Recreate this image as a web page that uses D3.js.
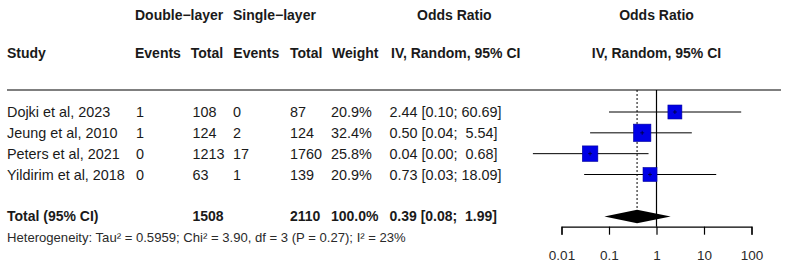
<!DOCTYPE html>
<html>
<head>
<meta charset="utf-8">
<script src="https://cdn.jsdelivr.net/npm/d3@7"></script>
<style>
  body { margin: 0; background: #fff; }
  text { font-family: "Liberation Sans", Arial, sans-serif; fill: #1a1a1a; white-space: pre; }
</style>
</head>
<body>
<div id="chart"></div>
<script>
var width = 790, height = 268;

// study data
var studies = ["Dojki et al, 2023", "Jeung et al, 2010", "Peters et al, 2021", "Yildirim et al, 2018"];
var eventsDouble = [1, 1, 0, 0];
var totalDouble = [108, 124, 1213, 63];
var eventsSingle = [0, 2, 17, 1];
var totalSingle = [87, 124, 1760, 139];
var weights = [20.9, 32.4, 25.8, 20.9];
var oddsRatio = [2.44, 0.50, 0.04, 0.73];
var ciLower = [0.10, 0.04, 0.0025, 0.03];
var ciUpper = [60.69, 5.54, 0.68, 18.09];

// pooled estimate
var pooledTotals = [1508, 2110];
var pooledWeight = 100.0;
var pooledOR = [0.39, 0.08, 1.99];   // estimate, lower, upper
var heterogeneity = "Heterogeneity: Tau\u00b2 = 0.5959; Chi\u00b2 = 3.90, df = 3 (P = 0.27); I\u00b2 = 23%";

var axisTicks = [0.01, 0.1, 1, 10, 100];

var svg = d3.select("#chart").append("svg")
    .attr("width", width)
    .attr("height", height);

var x = d3.scaleLog().domain([0.01, 100]).range([561.5, 751.5]);
var y = d3.scalePoint().domain(studies).range([112, 174.5]);
var side = d3.scaleSqrt().domain([0, 32.4]).range([0, 17.4]);

var totalY = 216.5, axisY = 226.7, ruleY = 90;

function fmt(v){ return v.toFixed(2); }
function ciText(or, lo, hi){
    var h = fmt(hi);
    while (h.length < 5) h = " " + h;
    return fmt(or) + " [" + fmt(lo) + "; " + h + "]";
}

// headers
var headers = [
    {t: "Double\u2212layer", x: 135, y: 15},
    {t: "Single\u2212layer", x: 233, y: 15},
    {t: "Odds Ratio", x: 417, y: 15},
    {t: "Study", x: 7, y: 53.3},
    {t: "Events", x: 135, y: 53.3},
    {t: "Total", x: 190.7, y: 53.3},
    {t: "Events", x: 233.3, y: 53.3},
    {t: "Total", x: 290, y: 53.3},
    {t: "Weight", x: 332, y: 53.3},
    {t: "IV, Random, 95% CI", x: 391, y: 53.3}
];
svg.append("g").selectAll("text")
    .data(headers)
    .enter().append("text")
    .attr("x", function(d){ return d.x; })
    .attr("y", function(d){ return d.y; })
    .attr("dy", "0.35em")
    .style("font-size", "14px")
    .style("font-weight", "bold")
    .text(function(d){ return d.t; });

svg.append("g").selectAll("text")
    .data(["Odds Ratio", "IV, Random, 95% CI"])
    .enter().append("text")
    .attr("x", x(1))
    .attr("y", function(d, i){ return i ? 53.3 : 15; })
    .attr("dy", "0.35em")
    .attr("text-anchor", "middle")
    .style("font-size", "14px")
    .style("font-weight", "bold")
    .text(function(d){ return d; });

svg.append("line")
    .attr("x1", 7).attr("x2", 781)
    .attr("y1", ruleY).attr("y2", ruleY)
    .attr("stroke", "#000").attr("stroke-width", 1.2);

// study rows
var columns = [
    {x: 7, v: function(d, i){ return d; }},
    {x: 136, v: function(d, i){ return eventsDouble[i]; }},
    {x: 192.5, v: function(d, i){ return totalDouble[i]; }},
    {x: 233, v: function(d, i){ return eventsSingle[i]; }},
    {x: 290, v: function(d, i){ return totalSingle[i]; }},
    {x: 331, v: function(d, i){ return weights[i].toFixed(1) + "%"; }},
    {x: 389.5, v: function(d, i){ return ciText(oddsRatio[i], ciLower[i], ciUpper[i]); }}
];
columns.forEach(function(c){
    svg.append("g").selectAll("text")
        .data(studies)
        .enter().append("text")
        .attr("x", c.x)
        .attr("y", function(d){ return y(d); })
        .attr("dy", "0.35em")
        .style("font-size", "14.4px")
        .text(c.v);
});

// total row
var totalRow = [
    {x: 7, t: "Total (95% CI)"},
    {x: 192.5, t: pooledTotals[0]},
    {x: 290, t: pooledTotals[1]},
    {x: 331, t: pooledWeight.toFixed(1) + "%"},
    {x: 389.5, t: ciText(pooledOR[0], pooledOR[1], pooledOR[2])}
];
svg.append("g").selectAll("text")
    .data(totalRow)
    .enter().append("text")
    .attr("x", function(d){ return d.x; })
    .attr("y", totalY)
    .attr("dy", "0.35em")
    .style("font-size", "14px")
    .style("font-weight", "bold")
    .text(function(d){ return d.t; });

svg.append("text")
    .attr("x", 7)
    .attr("y", 237.7)
    .attr("dy", "0.35em")
    .style("font-size", "13.1px")
    .style("fill", "#2a2a2a")
    .text(heterogeneity);

// reference lines
svg.append("line")
    .attr("x1", x(1)).attr("x2", x(1))
    .attr("y1", ruleY).attr("y2", axisY)
    .attr("stroke", "#000").attr("stroke-width", 1.2);
svg.append("line")
    .attr("x1", x(pooledOR[0])).attr("x2", x(pooledOR[0]))
    .attr("y1", ruleY).attr("y2", totalY - 6.7)
    .attr("stroke", "#000").attr("stroke-width", 1)
    .attr("stroke-dasharray", "2,2");

// CI lines and squares
var rows = studies.map(function(s, i){
    return {s: s, or: oddsRatio[i], lo: ciLower[i], hi: ciUpper[i], w: weights[i]};
});
svg.append("g").selectAll("line")
    .data(rows)
    .enter().append("line")
    .attr("x1", function(d){ return x(d.lo); })
    .attr("x2", function(d){ return x(d.hi); })
    .attr("y1", function(d){ return y(d.s); })
    .attr("y2", function(d){ return y(d.s); })
    .attr("stroke", "#000").attr("stroke-width", 1);
svg.append("g").selectAll("rect")
    .data(rows)
    .enter().append("rect")
    .attr("x", function(d){ return x(d.or) - side(d.w) / 2; })
    .attr("y", function(d){ return y(d.s) - side(d.w) / 2; })
    .attr("width", function(d){ return side(d.w); })
    .attr("height", function(d){ return side(d.w); })
    .attr("fill", "#0000e6")
    .attr("stroke", "#00009a").attr("stroke-width", 0.6);
svg.append("g").selectAll("path")
    .data(rows)
    .enter().append("path")
    .attr("d", function(d){
        var cx = x(d.or), cy = y(d.s);
        return "M" + (cx - 2) + "," + cy + "H" + (cx + 2) + "M" + cx + "," + (cy - 2) + "V" + (cy + 2);
    })
    .attr("stroke", "#000033").attr("stroke-width", 0.8);

// pooled diamond
svg.append("path")
    .attr("d", "M" + x(pooledOR[1]) + "," + totalY +
               "L" + x(pooledOR[0]) + "," + (totalY - 6.7) +
               "L" + x(pooledOR[2]) + "," + totalY +
               "L" + x(pooledOR[0]) + "," + (totalY + 6.7) + "Z")
    .attr("fill", "#000");

// axis
var axis = d3.axisBottom(x)
    .tickValues(axisTicks)
    .tickFormat(function(d){ return d3.format("~g")(d); })
    .tickSize(8)
    .tickPadding(16);
var gAxis = svg.append("g")
    .attr("transform", "translate(0," + axisY + ")")
    .call(axis);
gAxis.select(".domain").attr("stroke", "#000").attr("stroke-width", 1.2);
gAxis.selectAll(".tick line").attr("stroke", "#000").attr("stroke-width", 1.2);
gAxis.selectAll(".tick text")
    .style("font-size", "13.5px")
    .style("font-family", "'Liberation Sans', Arial, sans-serif")
    .style("fill", "#2a2a2a");
</script>
</body>
</html>
